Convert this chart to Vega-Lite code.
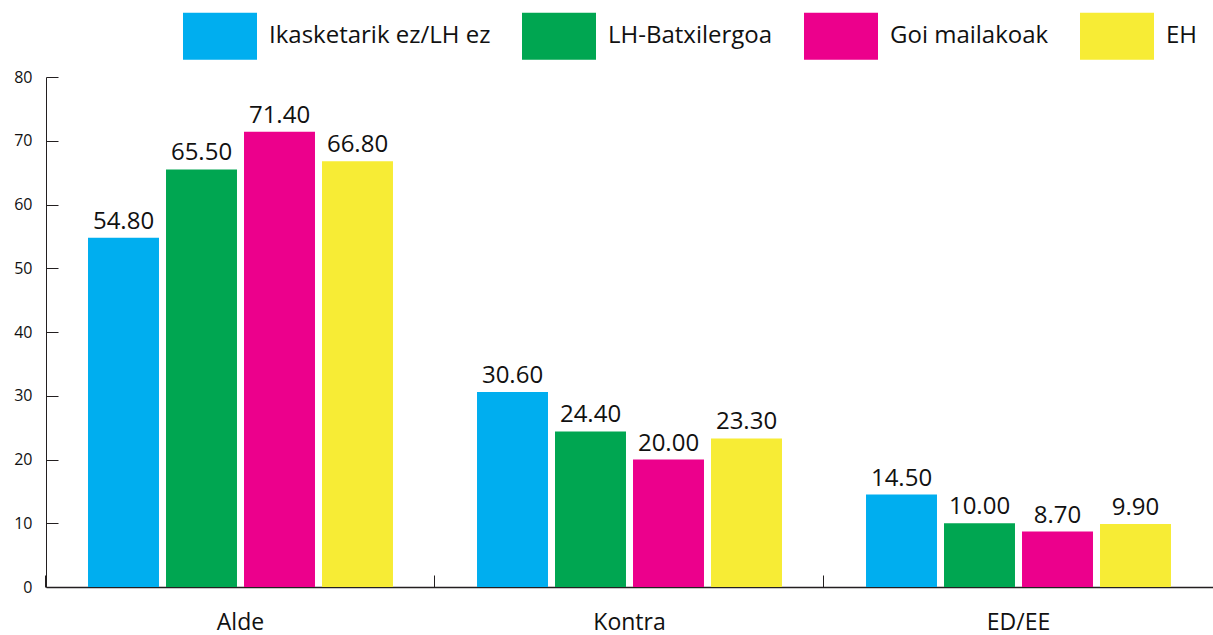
{
  "$schema": "https://vega.github.io/schema/vega-lite/v6.json",
  "width": 1167,
  "height": 510,
  "autosize": {"type": "none"},
  "padding": {"left": 46, "top": 77, "right": 0, "bottom": 48},
  "background": "white",
  "config": {
    "view": {"stroke": null},
    "font": "Open Sans"
  },
  "data": {
    "values": [
      {"cat": "Alde", "group": "Ikasketarik ez/LH ez", "value": 54.8},
      {"cat": "Alde", "group": "LH-Batxilergoa", "value": 65.5},
      {"cat": "Alde", "group": "Goi mailakoak", "value": 71.4},
      {"cat": "Alde", "group": "EH", "value": 66.8},
      {"cat": "Kontra", "group": "Ikasketarik ez/LH ez", "value": 30.6},
      {"cat": "Kontra", "group": "LH-Batxilergoa", "value": 24.4},
      {"cat": "Kontra", "group": "Goi mailakoak", "value": 20.0},
      {"cat": "Kontra", "group": "EH", "value": 23.3},
      {"cat": "ED/EE", "group": "Ikasketarik ez/LH ez", "value": 14.5},
      {"cat": "ED/EE", "group": "LH-Batxilergoa", "value": 10.0},
      {"cat": "ED/EE", "group": "Goi mailakoak", "value": 8.7},
      {"cat": "ED/EE", "group": "EH", "value": 9.9}
    ]
  },
  "encoding": {
    "x": {
      "field": "cat",
      "type": "nominal",
      "sort": ["Alde", "Kontra", "ED/EE"],
      "scale": {"paddingInner": 0.216, "paddingOuter": 0.108},
      "axis": {
        "title": null,
        "labelAngle": 0,
        "bandPosition": -0.138,
        "tickSize": -12,
        "tickColor": "#231F20",
        "domainColor": "#231F20",
        "domainWidth": 1.5,
        "labelFontSize": 23,
        "labelColor": "#111111",
        "labelPadding": 36,
        "labelFont": "Open Sans"
      }
    },
    "xOffset": {
      "field": "group",
      "type": "nominal",
      "sort": ["Ikasketarik ez/LH ez", "LH-Batxilergoa", "Goi mailakoak", "EH"],
      "scale": {"paddingInner": 0.09, "paddingOuter": 0}
    },
    "y": {
      "field": "value",
      "type": "quantitative",
      "scale": {"domain": [0, 80]},
      "axis": {
        "title": null,
        "values": [0, 10, 20, 30, 40, 50, 60, 70, 80],
        "grid": false,
        "tickSize": -12,
        "tickColor": "#231F20",
        "domainColor": "#231F20",
        "labelFontSize": 16,
        "labelColor": "#111111",
        "labelPadding": 26,
        "labelFont": "Open Sans"
      }
    }
  },
  "layer": [
    {
      "mark": {"type": "bar"},
      "encoding": {
        "color": {
          "field": "group",
          "type": "nominal",
          "sort": ["Ikasketarik ez/LH ez", "LH-Batxilergoa", "Goi mailakoak", "EH"],
          "scale": {
            "domain": ["Ikasketarik ez/LH ez", "LH-Batxilergoa", "Goi mailakoak", "EH"],
            "range": ["#00AEEF", "#00A651", "#EC008C", "#F7EC35"]
          },
          "legend": {
            "title": null,
            "orient": "none",
            "direction": "horizontal",
            "legendX": 137,
            "legendY": -78,
            "symbolType": "M-1,-0.635H1V0.635H-1Z",
            "symbolSize": 5476,
            "symbolStrokeWidth": 0,
            "symbolOpacity": 1,
            "labelFontSize": 24,
            "labelFont": "Open Sans",
            "labelColor": "#111111",
            "labelOffset": 12,
            "columnPadding": 31,
            "labelLimit": 400
          }
        }
      }
    },
    {
      "mark": {"type": "text", "baseline": "alphabetic", "dy": -9, "fontSize": 24, "color": "#111111"},
      "encoding": {
        "text": {"field": "value", "type": "quantitative", "format": ".2f"}
      }
    }
  ]
}
